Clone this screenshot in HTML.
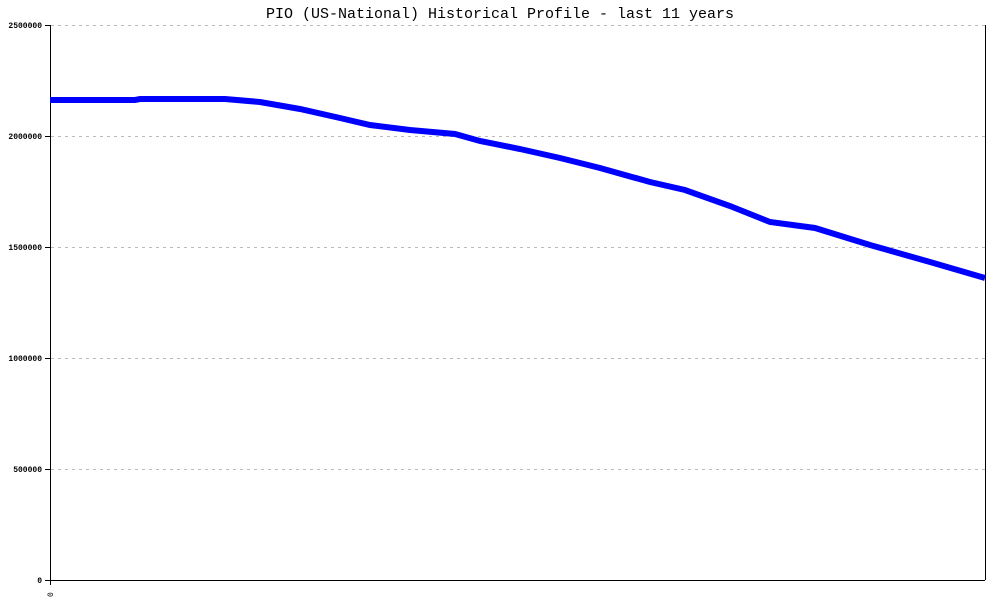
<!DOCTYPE html>
<html><head><meta charset="utf-8"><style>body{margin:0;background:#fff}</style></head><body>
<svg width="1000" height="600" xmlns="http://www.w3.org/2000/svg" font-family="Liberation Mono, monospace">
<rect width="1000" height="600" fill="#fff"/>
<text x="500" y="18" text-anchor="middle" font-size="15">PIO (US-National) Historical Profile - last 11 years</text>
<g stroke="#bbb" stroke-dasharray="3,4" stroke-width="1">
<line x1="51" y1="25.5" x2="985" y2="25.5"/>
<line x1="51" y1="136.5" x2="985" y2="136.5"/>
<line x1="51" y1="247.5" x2="985" y2="247.5"/>
<line x1="51" y1="358.5" x2="985" y2="358.5"/>
<line x1="51" y1="469.5" x2="985" y2="469.5"/>
</g>
<g stroke="#000" stroke-width="1">
<line x1="50.5" y1="25" x2="50.5" y2="585"/>
<line x1="985.5" y1="25" x2="985.5" y2="580"/>
<line x1="45" y1="580.5" x2="985" y2="580.5"/>
<line x1="45" y1="25.5" x2="50" y2="25.5"/>
<line x1="45" y1="136.5" x2="50" y2="136.5"/>
<line x1="45" y1="247.5" x2="50" y2="247.5"/>
<line x1="45" y1="358.5" x2="50" y2="358.5"/>
<line x1="45" y1="469.5" x2="50" y2="469.5"/>
</g>
<g font-size="8" text-anchor="end" font-weight="bold">
<text x="42" y="28">2500000</text>
<text x="42" y="139">2000000</text>
<text x="42" y="250">1500000</text>
<text x="42" y="361">1000000</text>
<text x="42" y="472">500000</text>
<text x="42" y="583">0</text>
</g>
<text x="0" y="0" font-size="8" transform="translate(53,597) rotate(-90)">0</text>
<polyline fill="none" stroke="#0000ff" stroke-width="6" points="50,100 135,100 140,99 225,99 260,102 300,109 340,118 370,125 410,130 455,134 480,141 520,149 560,158 600,168 650,182 685,190 730,206 770,222 815,228 870,245 930,262 985,278"/>
</svg>
</body></html>
